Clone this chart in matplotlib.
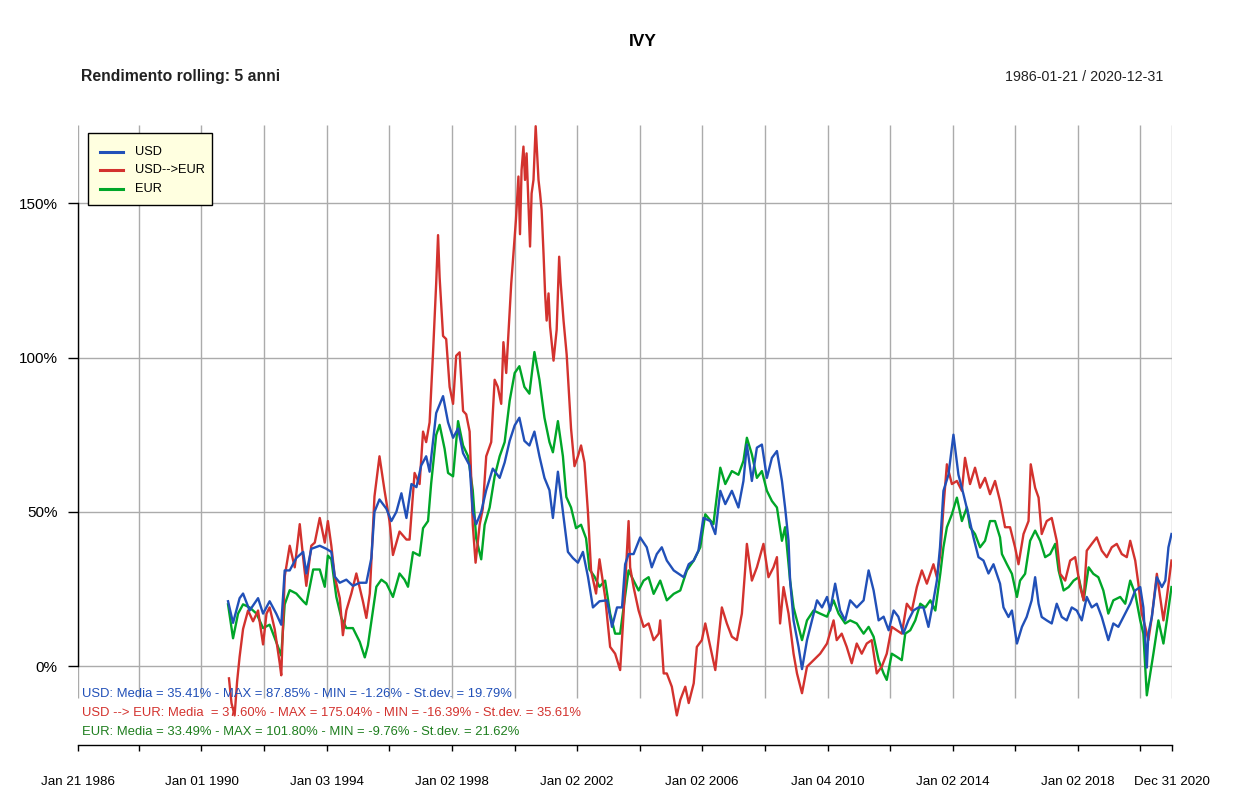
import matplotlib
matplotlib.use("Agg")
import matplotlib.pyplot as plt
from matplotlib.lines import Line2D
from matplotlib.patches import Rectangle
import pandas as pd

plt.rcParams['font.family'] = ['Liberation Sans', 'DejaVu Sans']

# rolling 5y return (decimal year, %)
usd_t = [1990.85, 1991.01, 1991.22, 1991.33, 1991.54, 1991.81, 1991.97, 1992.18, 1992.39, 1992.55,
         1992.66, 1992.82, 1993.03, 1993.25, 1993.35, 1993.51, 1993.78, 1993.99, 1994.15, 1994.26,
         1994.42, 1994.63, 1994.84, 1995.06, 1995.27, 1995.43, 1995.53, 1995.69, 1995.91, 1996.07,
         1996.23, 1996.39, 1996.55, 1996.71, 1996.87, 1997.02, 1997.18, 1997.29, 1997.50, 1997.72,
         1997.88, 1998.04, 1998.20, 1998.36, 1998.57, 1998.67, 1998.78, 1998.94, 1999.10, 1999.31,
         1999.53, 1999.69, 1999.85, 2000.01, 2000.16, 2000.32, 2000.48, 2000.64, 2000.80, 2000.96,
         2001.12, 2001.23, 2001.39, 2001.55, 2001.71, 2001.87, 2002.03, 2002.19, 2002.35, 2002.51,
         2002.72, 2002.96, 2003.12, 2003.28, 2003.44, 2003.54, 2003.65, 2003.81, 2004.02, 2004.23,
         2004.39, 2004.55, 2004.71, 2004.87, 2005.09, 2005.25, 2005.41, 2005.57, 2005.73, 2005.88,
         2006.04, 2006.26, 2006.42, 2006.58, 2006.74, 2006.95, 2007.16, 2007.32, 2007.43, 2007.59,
         2007.75, 2007.91, 2008.07, 2008.23, 2008.39, 2008.55, 2008.65, 2008.76, 2008.81, 2008.92,
         2009.08, 2009.19, 2009.35, 2009.51, 2009.67, 2009.83, 2009.99, 2010.09, 2010.25, 2010.41,
         2010.57, 2010.73, 2010.94, 2011.16, 2011.32, 2011.48, 2011.64, 2011.80, 2011.96, 2012.12,
         2012.27, 2012.43, 2012.59, 2012.75, 2012.91, 2013.07, 2013.23, 2013.39, 2013.50, 2013.60,
         2013.71, 2013.87, 2014.03, 2014.19, 2014.35, 2014.51, 2014.67, 2014.83, 2014.99, 2015.15,
         2015.31, 2015.52, 2015.63, 2015.79, 2015.90, 2016.06, 2016.22, 2016.37, 2016.53, 2016.64,
         2016.75, 2016.85, 2017.01, 2017.17, 2017.33, 2017.49, 2017.65, 2017.81, 2017.97, 2018.13,
         2018.29, 2018.45, 2018.61, 2018.77, 2018.98, 2019.14, 2019.30, 2019.52, 2019.68, 2019.84,
         2020.00, 2020.10, 2020.21, 2020.26, 2020.37, 2020.53, 2020.69, 2020.80, 2020.90, 2020.997]
usd_v = [21, 14, 22, 23.5, 18, 22, 17, 21, 17, 13.4,
         31, 31, 35, 37, 30, 38, 39, 38, 37, 29,
         27, 28, 26, 27, 27, 35, 50, 54, 51, 47,
         50, 56, 48, 59, 58, 65, 68, 63, 82, 87.5,
         79, 74, 77, 69, 65, 50, 46, 50, 57, 64,
         61, 66, 73, 78, 80.5, 73, 71.5, 76, 68, 61,
         57, 48, 63, 50, 37, 35, 33.5, 37, 29, 19,
         21, 21.3, 12.7, 19, 19, 33, 36.3, 36.3, 41.7, 38.5,
         32, 36.3, 38.5, 34.2, 31, 29.9, 28.8, 33, 34.2, 37.4,
         48, 47, 42.8, 56.8, 52.5, 56.8, 51.4, 60, 71.8, 60,
         70.8, 71.8, 61, 67.5, 69.7, 60, 51.4, 40.6, 27.7, 14.8,
         6.2, -1.0, 8.4, 14.8, 21.3, 19, 22.4, 18, 26.7, 18,
         14.8, 21.3, 19, 21.3, 31, 24.5, 14.8, 16, 11.6, 18,
         16, 10.5, 14.8, 18, 19, 19, 12.7, 21.3, 27.7, 38.5,
         56.8, 62, 75, 62, 55.7, 49, 41.7, 35.3, 34.2, 30,
         33, 26.7, 19, 15.9, 18, 7.3, 12.7, 15.9, 21.3, 28.8,
         20.2, 15.9, 14.8, 13.8, 20.2, 15.9, 14.8, 19, 18, 14.8,
         22.4, 19, 20.2, 15.9, 8.4, 13.8, 12.7, 17, 20.2, 24.5,
         25.6, 19, -0.5, 10.5, 15.9, 28.8, 25.6, 27.7, 38.5, 42.8]

conv_t = [1990.88, 1990.96, 1991.06, 1991.14, 1991.22, 1991.33, 1991.49, 1991.65, 1991.81, 1991.97,
          1992.08, 1992.18, 1992.34, 1992.50, 1992.55, 1992.66, 1992.82, 1992.98, 1993.14, 1993.25,
          1993.35, 1993.51, 1993.62, 1993.78, 1993.94, 1994.04, 1994.15, 1994.26, 1994.42, 1994.52,
          1994.63, 1994.79, 1994.95, 1995.16, 1995.27, 1995.38, 1995.53, 1995.69, 1995.85, 1996.01,
          1996.12, 1996.33, 1996.55, 1996.65, 1996.81, 1996.97, 1997.08, 1997.18, 1997.29, 1997.40,
          1997.50, 1997.56, 1997.61, 1997.72, 1997.82, 1997.93, 1998.04, 1998.14, 1998.25, 1998.36,
          1998.46, 1998.57, 1998.67, 1998.76, 1998.89, 1998.99, 1999.10, 1999.26, 1999.37, 1999.47,
          1999.58, 1999.65, 1999.74, 1999.90, 2000.05, 2000.13, 2000.18, 2000.23, 2000.29, 2000.34,
          2000.39, 2000.50, 2000.55, 2000.61, 2000.68, 2000.77, 2000.82, 2000.87, 2000.93, 2000.98,
          2001.03, 2001.09, 2001.14, 2001.25, 2001.35, 2001.43, 2001.48, 2001.57, 2001.67, 2001.81,
          2001.92, 2002.03, 2002.13, 2002.24, 2002.35, 2002.45, 2002.61, 2002.72, 2002.90, 2003.06,
          2003.22, 2003.38, 2003.49, 2003.65, 2003.70, 2003.81, 2003.97, 2004.13, 2004.29, 2004.45,
          2004.61, 2004.66, 2004.77, 2004.87, 2005.03, 2005.19, 2005.30, 2005.46, 2005.57, 2005.73,
          2005.83, 2005.99, 2006.10, 2006.26, 2006.42, 2006.52, 2006.63, 2006.79, 2006.95, 2007.11,
          2007.27, 2007.38, 2007.43, 2007.59, 2007.75, 2007.96, 2008.12, 2008.28, 2008.39, 2008.49,
          2008.60, 2008.76, 2008.92, 2009.03, 2009.19, 2009.35, 2009.56, 2009.77, 2009.99, 2010.20,
          2010.30, 2010.46, 2010.62, 2010.78, 2010.94, 2011.10, 2011.26, 2011.42, 2011.58, 2011.74,
          2011.90, 2012.06, 2012.22, 2012.38, 2012.54, 2012.70, 2012.86, 2013.02, 2013.18, 2013.39,
          2013.50, 2013.61, 2013.71, 2013.82, 2013.98, 2014.14, 2014.30, 2014.40, 2014.56, 2014.72,
          2014.88, 2015.04, 2015.20, 2015.36, 2015.52, 2015.68, 2015.84, 2016.00, 2016.11, 2016.27,
          2016.43, 2016.50, 2016.64, 2016.75, 2016.85, 2017.01, 2017.17, 2017.33, 2017.44, 2017.60,
          2017.76, 2017.92, 2018.08, 2018.19, 2018.29, 2018.45, 2018.61, 2018.77, 2018.93, 2019.09,
          2019.25, 2019.41, 2019.57, 2019.68, 2019.84, 2019.94, 2020.05, 2020.16, 2020.26, 2020.37,
          2020.53, 2020.74, 2020.85, 2020.997]
conv_v = [-4, -12, -16, -5, 3, 12, 18, 14.5, 18, 7,
          17, 19, 12, 1, -3, 29, 39, 32, 46, 35,
          26, 39, 40, 48, 40, 47, 39, 29, 22, 10,
          18, 23.5, 30, 21, 15.6, 23.5, 55, 68, 57, 47,
          36, 43.6, 41, 41, 62.6, 59, 76, 72.6, 79, 101.7,
          124, 139.7, 126, 107, 106, 90.5, 85, 100.6, 101.7, 82.7,
          81.6, 76, 45.8, 33.5, 45.8, 51, 68, 72.6, 92.8, 90.5,
          85, 105, 95, 124, 144.6, 158.7, 140, 160.8, 168.4, 157.6,
          166.2, 136, 153.2, 157.6, 175, 157.6, 153.2, 147.8, 133.8, 120.8,
          112, 120.8, 110, 99, 109, 132.7, 124, 112, 101, 77,
          64.8, 68, 71.5, 66, 50, 31, 23.5, 34.6, 22.4, 6.2,
          4, -1.3, 17, 47, 32, 25.6, 18, 12.7, 13.8, 8.4,
          10.5, 14.8, -2.4, -2.4, -6.7, -16, -11, -6.7, -12, -5.6,
          6.2, 8.4, 13.8, 6.2, -1.3, 8.4, 19, 13.8, 9.5, 8.4,
          17, 32, 39.6, 27.7, 32, 39.6, 28.8, 32, 35.3, 13.8,
          25.6, 17, 4, -2.4, -8.8, -0.2, 1.9, 4, 7.3, 14.8,
          8.4, 10.5, 6.2, 0.9, 7.3, 4, 7.3, 8.4, -2.4, -0.2,
          4, 12.7, 11.6, 10.5, 20.2, 18, 25.6, 31, 26.7, 33,
          28.8, 36.3, 51.4, 65.4, 59, 60, 56.8, 67.5, 59, 64.3,
          57.8, 61, 55.7, 60, 53.5, 45, 45, 38.5, 33, 42.8,
          47, 65.4, 57.8, 54.6, 42.8, 47, 48, 40.6, 29.9, 27.7,
          34.2, 35.3, 25.6, 21.3, 37.4, 39.6, 41.7, 37.4, 35.3, 38.5,
          39.6, 36.3, 35.3, 40.6, 34.2, 26.7, 17, 12.7, 8.4, 15.9,
          29.9, 14.8, 22.4, 34.2]

eur_t = [1990.85, 1991.01, 1991.17, 1991.33, 1991.54, 1991.76, 1991.97, 1992.18, 1992.39, 1992.55,
         1992.66, 1992.82, 1993.03, 1993.25, 1993.35, 1993.57, 1993.78, 1993.94, 1994.04, 1994.15,
         1994.31, 1994.47, 1994.63, 1994.84, 1995.06, 1995.22, 1995.32, 1995.48, 1995.59, 1995.75,
         1995.91, 1996.12, 1996.33, 1996.49, 1996.60, 1996.76, 1996.97, 1997.08, 1997.24, 1997.34,
         1997.50, 1997.61, 1997.77, 1997.88, 1998.04, 1998.20, 1998.36, 1998.52, 1998.67, 1998.78,
         1998.94, 1999.05, 1999.21, 1999.37, 1999.53, 1999.69, 1999.85, 2000.01, 2000.16, 2000.32,
         2000.48, 2000.64, 2000.80, 2000.96, 2001.12, 2001.23, 2001.39, 2001.55, 2001.66, 2001.81,
         2001.97, 2002.13, 2002.29, 2002.40, 2002.56, 2002.72, 2002.90, 2003.06, 2003.22, 2003.38,
         2003.49, 2003.65, 2003.81, 2003.97, 2004.13, 2004.29, 2004.45, 2004.66, 2004.87, 2005.09,
         2005.30, 2005.51, 2005.73, 2005.94, 2006.10, 2006.36, 2006.58, 2006.74, 2006.95, 2007.16,
         2007.32, 2007.43, 2007.59, 2007.75, 2007.91, 2008.07, 2008.23, 2008.39, 2008.55, 2008.65,
         2008.81, 2008.92, 2009.08, 2009.19, 2009.35, 2009.56, 2009.77, 2009.99, 2010.20, 2010.36,
         2010.57, 2010.73, 2010.94, 2011.16, 2011.32, 2011.48, 2011.64, 2011.80, 2011.90, 2012.06,
         2012.22, 2012.38, 2012.49, 2012.65, 2012.81, 2012.97, 2013.13, 2013.29, 2013.45, 2013.61,
         2013.71, 2013.82, 2013.98, 2014.14, 2014.30, 2014.46, 2014.56, 2014.72, 2014.88, 2015.04,
         2015.20, 2015.36, 2015.52, 2015.58, 2015.74, 2015.90, 2016.06, 2016.16, 2016.32, 2016.48,
         2016.64, 2016.80, 2016.96, 2017.12, 2017.28, 2017.39, 2017.55, 2017.71, 2017.87, 2018.03,
         2018.19, 2018.35, 2018.50, 2018.66, 2018.82, 2018.98, 2019.14, 2019.36, 2019.52, 2019.68,
         2019.84, 2020.00, 2020.10, 2020.21, 2020.32, 2020.42, 2020.58, 2020.74, 2020.85, 2020.997]
eur_v = [20, 9, 17, 20, 19, 17, 12.3, 13.4, 7.8, 3.4,
         20, 24.6, 23.5, 21, 20, 31.3, 31.3, 25.7, 35.8, 34.6,
         22.4, 15.6, 12.3, 12.3, 7.8, 2.8, 6.7, 17.9, 25.7, 28,
         26.8, 22.4, 30, 28, 25.7, 36.9, 35.8, 44.7, 47, 59.2,
         74.9, 78.2, 70.4, 62.6, 61.5, 79.4, 71.5, 68, 57, 41.4,
         34.6, 45.8, 51.4, 61.5, 68, 72.6, 86, 95, 97.2, 90.5,
         88.3, 101.8, 92.8, 80.5, 72.6, 69.3, 79.4, 68, 54.8, 51.4,
         44.7, 45.8, 41.4, 31.3, 29, 25.7, 27.7, 17, 10.5, 10.5,
         19, 31, 27.7, 24.5, 27.7, 28.8, 23.4, 27.7, 21.3, 23.4,
         24.5, 31, 34.2, 38.5, 49.2, 46, 64.3, 59, 63.2, 62,
         66.5, 74, 68.6, 61, 63.2, 56.8, 53.5, 51.4, 40.6, 45,
         27.7, 19, 12.7, 8.4, 14.8, 18, 17, 16, 21.3, 17,
         13.8, 14.8, 13.8, 10.5, 12.7, 9.5, 1.9, -2.4, -4.5, 4,
         3, 1.9, 10.5, 11.6, 14.8, 20.2, 19, 21.3, 18, 30,
         38.5, 45, 49.2, 54.6, 47, 51.4, 45, 42.8, 38.5, 40.6,
         47, 47, 41.7, 36.3, 33, 29.9, 22.4, 27.7, 29.9, 40.6,
         43.9, 40.6, 35.3, 36.3, 39.6, 31, 24.5, 25.6, 27.7, 28.8,
         21.3, 32, 29.9, 28.8, 24.5, 17, 21.3, 22.4, 20.2, 27.7,
         23.4, 14.8, 10.5, -9.5, -2.4, 4, 14.8, 7.3, 14.8, 25.6]

tick_dates = ['1986-01-21', '1988-01-04', '1990-01-01', '1992-01-02', '1994-01-03', '1996-01-02',
              '1998-01-02', '2000-01-03', '2002-01-02', '2004-01-02', '2006-01-02', '2008-01-02',
              '2010-01-04', '2012-01-03', '2014-01-02', '2016-01-04', '2018-01-02', '2020-01-02',
              '2020-12-31']
tick_labels = ['Jan 21 1986', '', 'Jan 01 1990', '', 'Jan 03 1994', '', 'Jan 02 1998', '',
               'Jan 02 2002', '', 'Jan 02 2006', '', 'Jan 04 2010', '', 'Jan 02 2014', '',
               'Jan 02 2018', '', 'Dec 31 2020']
y_ticks = [0, 50, 100, 150]
y_labels = ['0%', '50%', '100%', '150%']

series_names = ['USD', 'USD-->EUR', 'EUR']
stats_lines = ['USD: Media = 35.41% - MAX = 87.85% - MIN = -1.26% - St.dev. = 19.79%',
               'USD --> EUR: Media  = 37.60% - MAX = 175.04% - MIN = -16.39% - St.dev. = 35.61%',
               'EUR: Media = 33.49% - MAX = 101.80% - MIN = -9.76% - St.dev. = 21.62%']

BLUE = '#2150B8'
RED = '#D3322E'
GREEN = '#00A628'
TEXT_COLORS = ['#2150B8', '#D3322E', '#1E7E1E']


def to_dates(years):
    out = []
    for y in years:
        yr = int(y)
        start = pd.Timestamp(yr, 1, 1)
        end = pd.Timestamp(yr + 1, 1, 1)
        out.append(start + (end - start) * (y - yr))
    return out


W, H = 1250, 796
fig = plt.figure(figsize=(W / 100, H / 100), dpi=100)
ax = fig.add_axes([78 / W, 1 - 745 / H, 1093.5 / W, 620 / H])

x0 = pd.Timestamp(tick_dates[0])
x1 = pd.Timestamp(tick_dates[-1])
ticks = pd.to_datetime(tick_dates)
ax.set_xlim(x0, x1)
ax.set_ylim(-25.6, 175.4)

# grid
ax.vlines(ticks, -10.4, 175.4, color='#ABABAB', lw=1.0, zorder=0)
ax.hlines(y_ticks, x0, x1, color='#ABABAB', lw=1.0, zorder=0)

ax.plot(to_dates(eur_t), eur_v, color=GREEN, lw=1.7, zorder=2)
ax.plot(to_dates(conv_t), conv_v, color=RED, lw=1.7, zorder=3)
ax.plot(to_dates(usd_t), usd_v, color=BLUE, lw=1.7, zorder=4)

for s in ['top', 'right']:
    ax.spines[s].set_visible(False)
ax.spines['left'].set_bounds(0, 150)
ax.spines['left'].set_linewidth(1.0)
ax.spines['bottom'].set_linewidth(1.0)

ax.set_yticks(y_ticks)
ax.set_yticklabels(y_labels)
ax.tick_params(axis='y', length=7, width=1, pad=7.5, labelsize=11)
ax.set_xticks(ticks)
ax.set_xticklabels(tick_labels)
ax.tick_params(axis='x', length=4.5, width=1, pad=17.5, labelsize=9.6)

# titles
fig.text(643 / W, 1 - 41 / H, 'IVY', ha='center', va='center', fontsize=12.5, fontweight='bold')
fig.text(81 / W, 1 - 77 / H, 'Rendimento rolling: 5 anni', ha='left', va='center',
         fontsize=11.3, fontweight='bold', color='#222222')
fig.text(1163 / W, 1 - 77 / H, '1986-01-21 / 2020-12-31', ha='right', va='center',
         fontsize=10.3, color='#222222')

# stats lines
for i, (txt, c) in enumerate(zip(stats_lines, TEXT_COLORS)):
    fig.text(82 / W, 1 - (694 + 19 * i) / H, txt, ha='left', va='center', fontsize=9.35, color=c)

# legend box
fig.add_artist(Rectangle((87.5 / W, 1 - 205 / H), 124 / W, 72 / H, transform=fig.transFigure,
                         facecolor='#FFFFE0', edgecolor='black', lw=1.0, zorder=10))
for i, (name, c) in enumerate(zip(series_names, [BLUE, RED, GREEN])):
    yy = 1 - (152 + 18.3 * i) / H
    fig.add_artist(Line2D([99.5 / W, 122.5 / W], [yy, yy], transform=fig.transFigure,
                          color=c, lw=2.2, zorder=11))
    fig.text(135 / W, yy, name, ha='left', va='center', fontsize=9.2, zorder=12)

fig.savefig('out.png', dpi=100)
